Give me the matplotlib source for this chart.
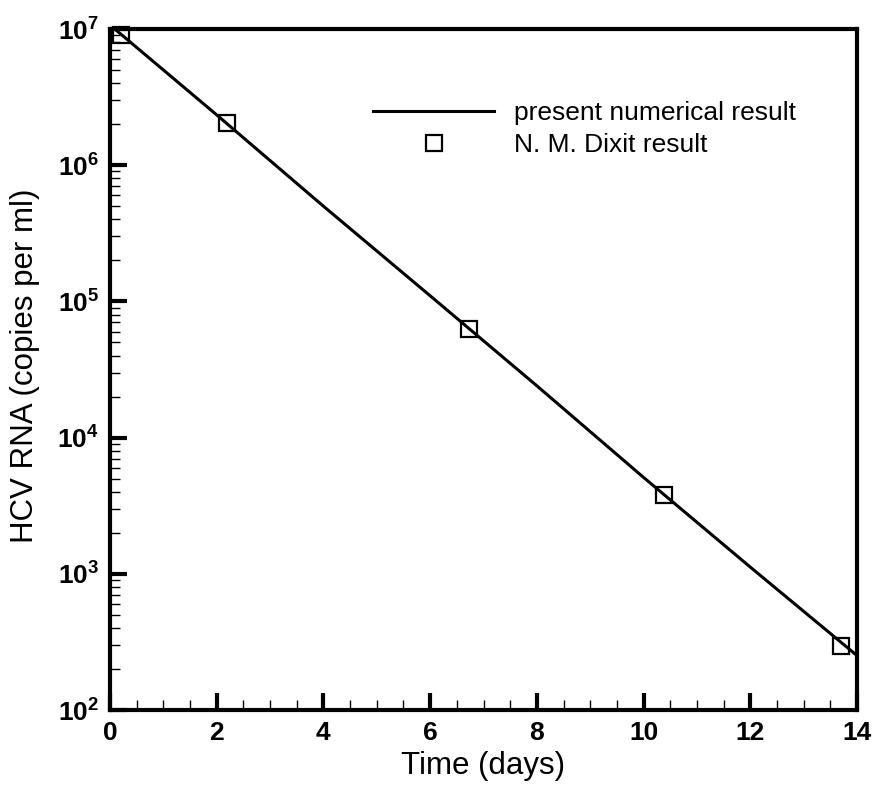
import matplotlib
matplotlib.use("Agg")
import matplotlib.pyplot as plt
from matplotlib.ticker import MultipleLocator, LogLocator, FixedLocator, FixedFormatter, NullFormatter

plt.rcParams['font.family'] = ['Liberation Sans', 'DejaVu Sans']
plt.rcParams['mathtext.fontset'] = 'custom'
plt.rcParams['mathtext.rm'] = 'Liberation Sans:bold'
plt.rcParams['mathtext.bf'] = 'Liberation Sans:bold'
plt.rcParams['mathtext.it'] = 'Liberation Sans:bold'

# numerical result (line)
line_t = [0, 2, 4, 6, 8, 10, 12, 14]
line_v = [1.07e7, 2.34e6, 5.0e5, 1.1e5, 2.4e4, 5.1e3, 1.12e3, 251]

# N. M. Dixit result (markers)
dixit_t = [0.2, 2.2, 6.73, 10.38, 13.70]
dixit_v = [9.0e6, 2.04e6, 6.27e4, 3.79e3, 295]

xticks = [0, 2, 4, 6, 8, 10, 12, 14]
yticks = [1e2, 1e3, 1e4, 1e5, 1e6, 1e7]
ytick_labels = [r'$\mathbf{10^{2}}$', r'$\mathbf{10^{3}}$', r'$\mathbf{10^{4}}$',
                r'$\mathbf{10^{5}}$', r'$\mathbf{10^{6}}$', r'$\mathbf{10^{7}}$']

fig = plt.figure(figsize=(8.74, 7.88), dpi=100)
ax = fig.add_axes([110/874, 1 - 710/788, (857-110)/874, (710-29)/788])

ax.plot(line_t, line_v, color='black', lw=2.2, label='present numerical result', zorder=3)
ax.plot(dixit_t, dixit_v, linestyle='none', marker='s', markersize=11, markerfacecolor='none',
        markeredgecolor='black', markeredgewidth=1.6, label='N. M. Dixit result', zorder=4, clip_on=False)

ax.set_yscale('log')
ax.set_xlim(0, 14)
ax.set_ylim(1e2, 1e7)

ax.xaxis.set_major_locator(FixedLocator(xticks))
ax.set_xticklabels([str(t) for t in xticks])
ax.xaxis.set_minor_locator(MultipleLocator(0.5))
ax.yaxis.set_major_locator(FixedLocator(yticks))
ax.yaxis.set_major_formatter(FixedFormatter(ytick_labels))
ax.yaxis.set_minor_locator(LogLocator(base=10, subs=range(2, 10), numticks=20))
ax.yaxis.set_minor_formatter(NullFormatter())

ax.tick_params(which='major', direction='in', length=12, width=3, labelsize=19, pad=8,
               top=False, right=False)
ax.tick_params(which='minor', direction='in', length=7, width=1.0, top=False, right=False)
for lbl in ax.get_xticklabels():
    lbl.set_fontweight('bold')

for s in ax.spines.values():
    s.set_linewidth(3)

ax.set_xlabel('Time (days)', fontsize=22.5, labelpad=4)
ax.set_ylabel('HCV RNA (copies per ml)', fontsize=22.5)
ax.yaxis.set_label_coords(-(110-40)/747, (710-366)/681)

leg = ax.legend(loc='upper left', bbox_to_anchor=(0.352, 0.894), frameon=False, fontsize=19,
                handlelength=4.6, handletextpad=0.75, labelspacing=0.31, borderaxespad=0,
                borderpad=0)

fig.savefig('out.png', dpi=100)
